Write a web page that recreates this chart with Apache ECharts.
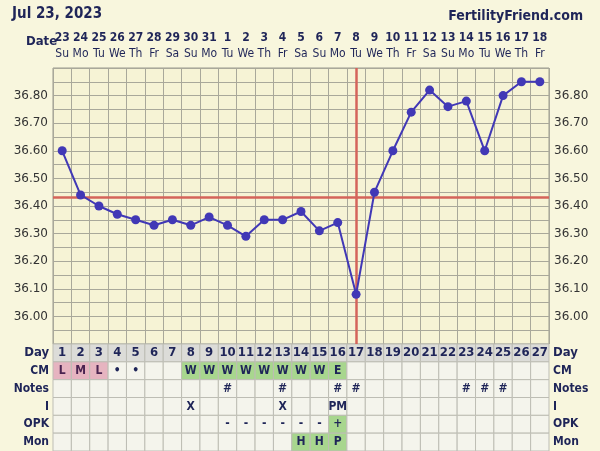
<!DOCTYPE html>
<html>
<head>
<meta charset="utf-8">
<script src="https://cdn.jsdelivr.net/npm/echarts@6/dist/echarts.min.js"></script>
<style>html,body{margin:0;padding:0;background:#f8f6dd;}#c{width:600px;height:451px;}</style>
</head>
<body>
<div id="c"></div>
<script>
const days = ['1','2','3','4','5','6','7','8','9','10','11','12','13','14','15','16','17','18','19','20','21','22','23','24','25','26','27'];
const dates = ['23','24','25','26','27','28','29','30','31','1','2','3','4','5','6','7','8','9','10','11','12','13','14','15','16','17','18'];
const weekdays = ['Su','Mo','Tu','We','Th','Fr','Sa','Su','Mo','Tu','We','Th','Fr','Sa','Su','Mo','Tu','We','Th','Fr','Sa','Su','Mo','Tu','We','Th','Fr'];
const temps = [36.60,36.44,36.40,36.37,36.35,36.33,36.35,36.33,36.36,36.33,36.29,36.35,36.35,36.38,36.31,36.34,36.08,36.45,36.60,36.74,36.82,36.76,36.78,36.60,36.80,36.85,36.85];
const coverline = 36.43;
const ovulationDay = '17';
const yTicks = [36.00,36.10,36.20,36.30,36.40,36.50,36.60,36.70,36.80];
const rowLabels = ['Day','CM','Notes','I','OPK','Mon'];
const cmRow    = ['L','M','L','•','•','','','W','W','W','W','W','W','W','W','E','','','','','','','','','','',''];
const notesRow = ['','','','','','','','','','#','','','#','','','#','#','','','','','','#','#','#','',''];
const iRow     = ['','','','','','','','X','','','','','X','','','PM','','','','','','','','','','',''];
const opkRow   = ['','','','','','','','','','-','-','-','-','-','-','+','','','','','','','','','','',''];
const monRow   = ['','','','','','','','','','','','','','H','H','P','','','','','','','','','','',''];

const tableRows = [days, cmRow, notesRow, iRow, opkRow, monRow];
const cells = [];
tableRows.forEach((row, r) => row.forEach((t, c) => cells.push({value:[c, r], text:t})));

const NAVY = '#1f2558';
const GREEN = '#a8d68e';
const PINK = '#e6b4c0';
function cellFill(r, t) {
  if (r === 0) return '#dcdcd8';
  if (r === 1 && (t === 'L' || t === 'M')) return PINK;
  if (r === 1 && (t === 'W' || t === 'E')) return GREEN;
  if (r === 4 && t === '+') return GREEN;
  if (r === 5 && (t === 'H' || t === 'P')) return GREEN;
  return '#f4f4ec';
}

const chart = echarts.init(document.getElementById('c'), null, {renderer:'canvas'});
const FONT = 'DejaVu Sans Condensed';
const labelFmt = v => {
  const k = Math.round(v * 100);
  return (k % 10 === 0 && yTicks.some(t => Math.round(t*100) === k)) ? (k/100).toFixed(2) : '';
};
const rowLabelFmt = v => v === 'Day' ? '{a|Day}' : '{b|' + v + '}';
const rowRich = {
  a:{fontFamily:FONT, fontWeight:'bold', fontSize:13, color:NAVY},
  b:{fontFamily:FONT, fontWeight:'bold', fontSize:12, color:NAVY}
};

chart.setOption({
  backgroundColor:'#f8f6dd',
  animation:false,
  title:[
    {text:'Jul 23, 2023', left:7, top:2, textStyle:{fontFamily:FONT, fontWeight:'bold', fontSize:15, color:NAVY}},
    {text:'FertilityFriend.com', right:12, top:4, textStyle:{fontFamily:FONT, fontWeight:'bold', fontSize:14, color:NAVY}},
    {text:'Date', left:21, top:30, textStyle:{fontFamily:FONT, fontWeight:'bold', fontSize:13, color:NAVY}}
  ],
  grid:[
    {left:53, top:68, width:496, height:276, show:true, backgroundColor:'#f6f3d5', borderColor:'#9a9a8c', borderWidth:1},
    {left:53, top:344, width:496, height:107}
  ],
  xAxis:[
    {type:'category', gridIndex:0, data:days, boundaryGap:true, axisLabel:{show:false}, axisLine:{show:false}, axisTick:{show:false},
     splitLine:{show:true, interval:0, lineStyle:{color:'#a9a89a', width:1}}},
    {type:'category', gridIndex:0, position:'top', data:dates.map((d,i)=>d+'|'+weekdays[i]), boundaryGap:true,
     axisLine:{show:false}, axisTick:{show:false},
     axisLabel:{interval:0, margin:6, formatter:v=>{const p=v.split('|'); return '{d|'+p[0]+'}\n{w|'+p[1]+'}';},
       rich:{d:{fontFamily:FONT, fontWeight:'bold', fontSize:12, color:NAVY, lineHeight:16},
             w:{fontFamily:FONT, fontSize:12, color:NAVY, lineHeight:16}}}},
    {type:'category', gridIndex:1, data:days, show:false}
  ],
  yAxis:[
    {type:'value', gridIndex:0, min:35.90, max:36.90, interval:0.05, axisLine:{show:false}, axisTick:{show:false},
     axisLabel:{formatter:labelFmt, fontFamily:'DejaVu Sans', fontSize:12, color:'#333', margin:5},
     splitLine:{show:true, lineStyle:{color:'#a9a89a', width:1}}},
    {type:'value', gridIndex:0, position:'right', min:35.90, max:36.90, interval:0.05, axisLine:{show:false}, axisTick:{show:false},
     axisLabel:{formatter:labelFmt, fontFamily:'DejaVu Sans', fontSize:12, color:'#333', margin:5},
     splitLine:{show:false}},
    {type:'category', gridIndex:1, data:rowLabels, inverse:true, axisLine:{show:false}, axisTick:{show:false},
     axisLabel:{formatter:rowLabelFmt, rich:rowRich, margin:4}},
    {type:'category', gridIndex:1, position:'right', data:rowLabels, inverse:true, axisLine:{show:false}, axisTick:{show:false},
     axisLabel:{formatter:rowLabelFmt, rich:rowRich, margin:4}}
  ],
  series:[
    {type:'line', xAxisIndex:0, yAxisIndex:0, data:temps, symbol:'circle', symbolSize:9, z:5,
     lineStyle:{color:'#4138b6', width:2}, itemStyle:{color:'#4138b6'},
     markLine:{silent:true, symbol:'none', label:{show:false}, z:3,
       lineStyle:{color:'#d4645a', width:2.5, type:'solid'},
       data:[{yAxis:coverline}, {xAxis:ovulationDay}]}},
    {type:'custom', xAxisIndex:2, yAxisIndex:2, data:cells.map(c=>c.value), silent:true,
     renderItem:(params, api) => {
       const cell = cells[params.dataIndex];
       const p = api.coord([api.value(0), api.value(1)]);
       const s = api.size([1, 1]);
       const r = cell.value[1];
       return {type:'group', children:[
         {type:'rect', shape:{x:p[0]-s[0]/2, y:p[1]-s[1]/2, width:s[0], height:s[1]},
          style:{fill:cellFill(r, cell.text), stroke:'#bdbdb4', lineWidth:1}},
         {type:'text', style:{text:cell.text, x:p[0], y:p[1], align:'center', verticalAlign:'middle',
          fontFamily:FONT, fontWeight:'bold', fontSize:(r===0?13:12), fill:(r===1 && (cell.text==='L'||cell.text==='M')) ? '#4a2350' : NAVY}}
       ]};
     }}
  ]
});
</script>
</body>
</html>
